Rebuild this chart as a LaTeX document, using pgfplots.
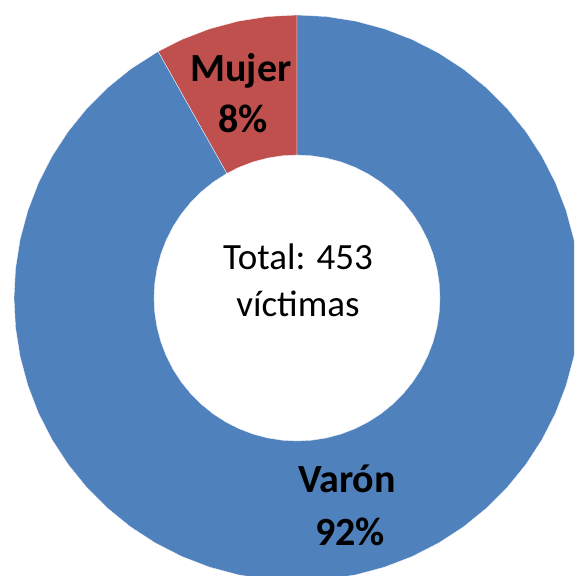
\documentclass[border=0pt]{standalone}
\usepackage{fontspec}
\setmainfont{Carlito}
\usepackage{pgfplots}
\pgfplotsset{compat=1.18}
\definecolor{varon}{HTML}{4F81BD}
\definecolor{mujer}{HTML}{C0504D}
\newcommand{\lblfont}{\fontsize{40}{48}\selectfont\bfseries}
\newcommand{\totfont}{\fontsize{37}{44}\selectfont}

% Mujer 37 (8%), Varón 416 (92%): wedge from 90 deg to 90+360*37/453 = 119.4 deg
\begin{document}
\begin{tikzpicture}
\begin{axis}[hide axis, scale only axis, width=574pt, height=576pt,
  xmin=-297, xmax=277, ymin=-278, ymax=298, clip=true]
% Mujer
\addplot[fill=mujer, draw=white, line width=0.3pt, data cs=polar] coordinates {
  (90,283) (96,283) (102,283) (108,283) (114,283) (119.4,283)
  (119.4,143) (114,143) (108,143) (102,143) (96,143) (90,143)} -- cycle;
% Varón
\addplot[fill=varon, draw=white, line width=0.3pt, data cs=polar] coordinates {
  (119.4,283) (126,283) (132,283) (138,283) (144,283) (150,283) (156,283) (162,283)
  (168,283) (174,283) (180,283) (186,283) (192,283) (198,283) (204,283) (210,283)
  (216,283) (222,283) (228,283) (234,283) (240,283) (246,283) (252,283) (258,283)
  (264,283) (270,283) (276,283) (282,283) (288,283) (294,283) (300,283) (306,283)
  (312,283) (318,283) (324,283) (330,283) (336,283) (342,283) (348,283) (354,283)
  (360,283) (366,283) (372,283) (378,283) (384,283) (390,283) (396,283) (402,283)
  (408,283) (414,283) (420,283) (426,283) (432,283) (438,283) (444,283) (450,283)
  (450,143) (444,143) (438,143) (432,143) (426,143) (420,143) (414,143) (408,143)
  (402,143) (396,143) (390,143) (384,143) (378,143) (372,143) (366,143) (360,143)
  (354,143) (348,143) (342,143) (336,143) (330,143) (324,143) (318,143) (312,143)
  (306,143) (300,143) (294,143) (288,143) (282,143) (276,143) (270,143) (264,143)
  (258,143) (252,143) (246,143) (240,143) (234,143) (228,143) (222,143) (216,143)
  (210,143) (204,143) (198,143) (192,143) (186,143) (180,143) (174,143) (168,143)
  (162,143) (156,143) (150,143) (144,143) (138,143) (132,143) (126,143) (119.4,143)} -- cycle;
\node[anchor=base, inner sep=0pt] at (axis cs:-56,216) {\lblfont Mujer};
\node[anchor=base, inner sep=0pt] at (axis cs:-54,165) {\lblfont 8\%};
\node[anchor=base, inner sep=0pt] at (axis cs:50,-195) {\lblfont Varón};
\node[anchor=base, inner sep=0pt] at (axis cs:53,-248) {\lblfont 92\%};
\node[anchor=base, inner sep=0pt] at (axis cs:1,28) {\totfont Total: 453};
\node[anchor=base, inner sep=0pt] at (axis cs:1,-19) {\totfont víctimas};
\end{axis}
\pgfresetboundingbox
\useasboundingbox (current axis.south west) rectangle (current axis.north east);
\end{tikzpicture}
\end{document}
